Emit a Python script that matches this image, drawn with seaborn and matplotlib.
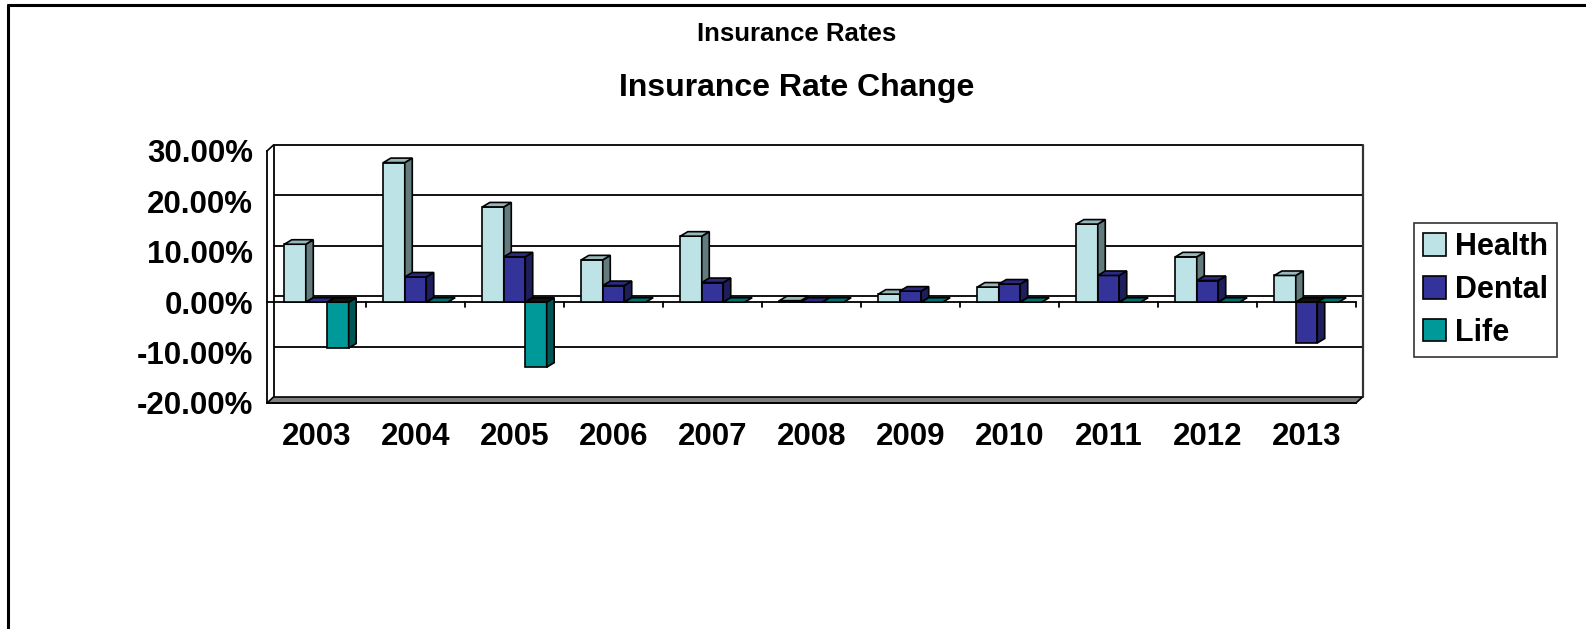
import numpy as np
import pandas as pd
import matplotlib
matplotlib.use("Agg")
import matplotlib.pyplot as plt
import seaborn as sns
from matplotlib.patches import Polygon, Patch
from matplotlib.lines import Line2D
from matplotlib.ticker import PercentFormatter, FixedLocator
from matplotlib.colors import to_hex

# data (rate change as fraction)
years = ['2003', '2004', '2005', '2006', '2007', '2008', '2009', '2010', '2011', '2012', '2013']
health = [0.115, 0.277, 0.189, 0.084, 0.131, 0.003, 0.016, 0.030, 0.155, 0.090, 0.053]
dental = [0.0, 0.050, 0.090, 0.033, 0.039, 0.0, 0.022, 0.036, 0.053, 0.043, -0.081]
life = [-0.091, 0.0, -0.129, 0.0, 0.0, 0.0, 0.0, 0.0, 0.0, 0.0, 0.0]
series = ['Health', 'Dental', 'Life']

front_col = {'Health': '#BDE3E6', 'Dental': '#333399', 'Life': '#009999'}
side_col = {'Health': '#637B7C', 'Dental': '#1E1E5C', 'Life': '#005555'}
top_col = {'Health': '#97B8BA', 'Dental': '#2A2A80', 'Life': '#007070'}

df = pd.DataFrame({
    'year': years * 3,
    'rate': health + dental + life,
    'type': [s for s in series for _ in years],
})

sns.set_style('white')
plt.rcParams['font.family'] = ['Liberation Sans', 'DejaVu Sans']
plt.rcParams['font.weight'] = 'bold'
plt.rcParams['axes.unicode_minus'] = False
plt.rcParams['text.color'] = 'black'
plt.rcParams['xtick.color'] = 'black'
plt.rcParams['ytick.color'] = 'black'

W, H = 1586, 629
fig = plt.figure(figsize=(W / 100, H / 100), dpi=100)
ax = fig.add_axes([267 / W, 1 - 403 / H, (1356 - 267) / W, (403 - 151) / H])

sns.barplot(data=df, x='year', y='rate', hue='type', hue_order=series,
            palette=front_col, saturation=1, width=0.65, gap=0, errorbar=None,
            edgecolor='black', linewidth=1.2, legend=False, ax=ax)

ax.set_xlim(-0.5, len(years) - 0.5)
ax.set_ylim(-0.20, 0.30)
x0, x1 = ax.get_xlim()
y0, y1 = ax.get_ylim()
pos = ax.get_position()
px_x = (x1 - x0) / (pos.width * W)   # data units per pixel
px_y = (y1 - y0) / (pos.height * H)

# depth offsets
bdx, bdy = 7.5 * px_x, 4.5 * px_y    # bars
wdx, wdy = 6.5 * px_x, 6.0 * px_y    # walls

lw = 1.2
hex2name = {to_hex(v): k for k, v in front_col.items()}
bars = sorted(ax.patches, key=lambda p: p.get_x())
for k, p in enumerate(bars):
    name = hex2name.get(to_hex(p.get_facecolor()), 'Health')
    x, w = p.get_x(), p.get_width()
    yb, h = p.get_y(), p.get_height()
    top, bot = max(yb, yb + h), min(yb, yb + h)
    z = 3 + 0.01 * k
    p.set_zorder(z)
    neg = (yb + h) < yb
    if top - bot > 1e-9:
        side = [(x + w, bot), (x + w, top), (x + w + bdx, top + bdy), (x + w + bdx, bot + bdy)]
        ax.add_patch(Polygon(side, closed=True, facecolor=side_col[name],
                             edgecolor='black', lw=lw, zorder=z + 0.004, clip_on=False))
    tcol = '#111111' if neg else top_col[name]
    tp = [(x, top), (x + w, top), (x + w + bdx, top + bdy), (x + bdx, top + bdy)]
    ax.add_patch(Polygon(tp, closed=True, facecolor=tcol, edgecolor='black',
                         lw=lw, zorder=z + 0.005, clip_on=False))

# back wall gridlines
yt = [-0.20, -0.10, 0.0, 0.10, 0.20, 0.30]
for v in yt[1:]:
    ax.plot([x0 + wdx, x1 + wdx], [v + wdy, v + wdy], color='black', lw=1.3,
            zorder=1, clip_on=False, solid_capstyle='butt')
# back wall verticals and left wall
ax.plot([x0 + wdx, x0 + wdx], [y0 + wdy, y1 + wdy], color='black', lw=1.3, zorder=1, clip_on=False)
ax.plot([x1 + wdx, x1 + wdx], [y0 + wdy, y1 + wdy], color='#333333', lw=1.6, zorder=1, clip_on=False)
ax.plot([x0, x0 + wdx], [y1, y1 + wdy], color='black', lw=1.2, zorder=1, clip_on=False)
# floor slab
floor = [(x0, y0), (x1, y0), (x1 + wdx, y0 + wdy), (x0 + wdx, y0 + wdy)]
ax.add_patch(Polygon(floor, closed=True, facecolor='#808080', edgecolor='black',
                     lw=1.2, zorder=1.5, clip_on=False))
# front zero axis with category ticks
ax.plot([x0, x1], [0, 0], color='black', lw=1.3, zorder=1.6, clip_on=False)
bounds = np.arange(len(years) + 1) - 0.5
for b in bounds[1:]:
    ax.plot([b, b], [0, -5 * px_y], color='black', lw=1.3, zorder=1.6, clip_on=False)

# axes styling
for s in ['top', 'right']:
    ax.spines[s].set_visible(False)
ax.spines['left'].set_linewidth(1.3)
ax.spines['bottom'].set_linewidth(1.3)
ax.spines['left'].set_color('black')
ax.spines['bottom'].set_color('black')
ax.spines['left'].set_zorder(1.7)
ax.spines['bottom'].set_zorder(1.7)
ax.set_yticks(yt)
ax.yaxis.set_major_formatter(PercentFormatter(xmax=1, decimals=2))
ax.tick_params(axis='y', direction='out', length=4, width=1.3, pad=6,
               labelsize=22.5, color='black', labelcolor='black')
ax.xaxis.set_minor_locator(FixedLocator(bounds))
ax.tick_params(axis='x', which='major', length=0, pad=14, labelsize=22.5, labelcolor='black')
ax.tick_params(axis='x', which='minor', direction='out', length=4, width=1.3, color='black')
for t in ax.get_xticklabels() + ax.get_yticklabels():
    t.set_fontweight('bold')
ax.set_xlabel('')
ax.set_ylabel('')
ax.patch.set_visible(False)

# titles
fig.text(797 / W, 1 - 34 / H, 'Insurance Rates', ha='center', va='center',
         fontsize=18.5, fontweight='bold', color='black')
fig.text(797 / W, 1 - 88 / H, 'Insurance Rate Change', ha='center', va='center',
         fontsize=23, fontweight='bold', color='black')

# legend
handles = [Patch(facecolor=front_col[s], edgecolor='black', lw=1.2, label=s) for s in series]
leg = fig.legend(handles=handles, loc='upper left', bbox_to_anchor=(1414 / W, 1 - 223 / H),
                 frameon=True, fancybox=False, edgecolor='black',
                 prop={'size': 22, 'weight': 'bold'}, handlelength=0.75, handleheight=0.75,
                 handletextpad=0.3, labelspacing=0.42, borderpad=0.3, borderaxespad=0)
leg.get_frame().set_linewidth(1.2)
for t in leg.get_texts():
    t.set_color('black')

# outer chart border (top and left visible)
fig.add_artist(Line2D([8 / W, 1], [1 - 5 / H, 1 - 5 / H], color='black', lw=2.2))
fig.add_artist(Line2D([8 / W, 8 / W], [0, 1 - 5 / H], color='black', lw=2.2))

fig.savefig('out.png', dpi=100, facecolor='white')
